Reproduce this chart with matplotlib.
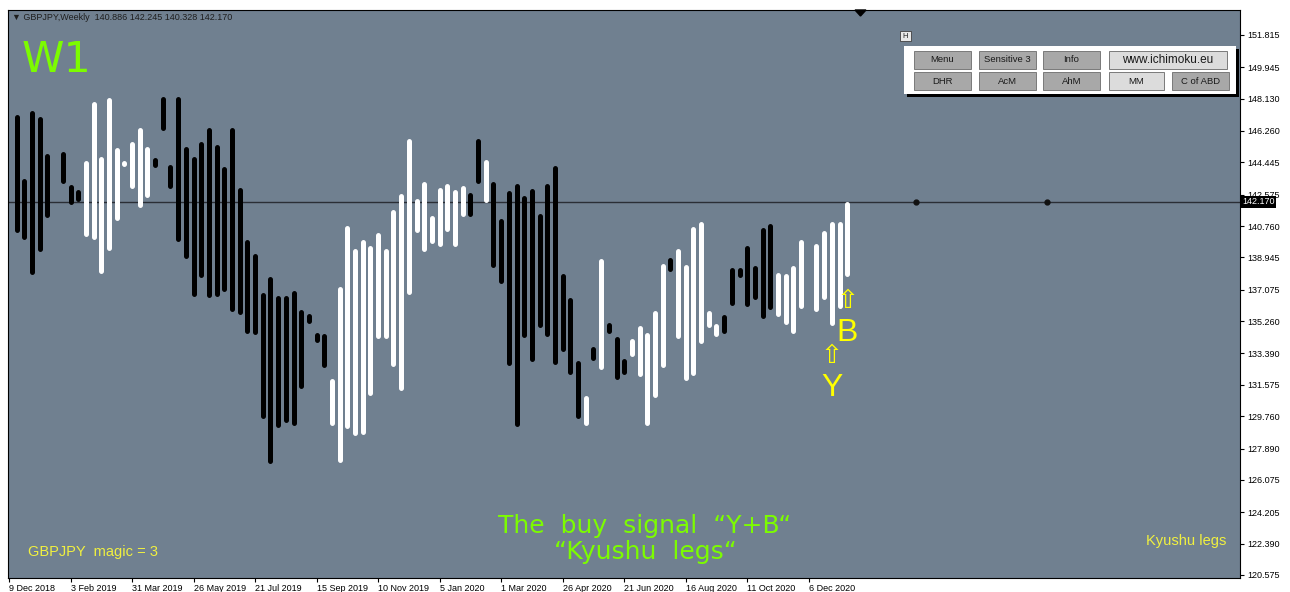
import matplotlib
matplotlib.use("Agg")
import matplotlib.pyplot as plt
from matplotlib.patches import Rectangle, Polygon
import numpy as np
import pandas as pd

plt.rcParams['font.family'] = ['Liberation Sans', 'DejaVu Sans']

# weekly "Kyushu legs" bars, first bar is the week of 16 Dec 2018
first_week = "2018-12-16"
leg_high = [147.19, 143.54, 147.42, 147.07, 144.93, 144.82, 145.10, 143.14, 142.85, 144.53,
            147.94, 144.76, 148.17, 145.28, 144.47, 145.68, 146.49, 145.34, 144.70, 148.23,
            144.35, 148.23, 145.34, 144.76, 145.68, 146.44, 145.45, 144.18, 146.44, 143.02,
            140.01, 139.15, 136.89, 137.82, 136.72, 136.77, 137.06, 135.96, 135.73, 134.63,
            134.52, 131.97, 137.24, 140.77, 139.49, 139.96, 139.61, 140.36, 139.44, 141.69,
            142.67, 145.80, 142.33, 143.31, 141.40, 143.02, 143.25, 142.85, 143.08, 142.73,
            145.80, 144.59, 143.31, 141.17, 142.79, 143.20, 142.50, 142.91, 141.46, 143.20,
            144.29, 137.99, 136.60, 132.96, 130.93, 133.82, 138.86, 135.21, 134.35, 133.07,
            134.23, 134.98, 134.58, 135.85, 138.57, 138.97, 139.49, 138.51, 140.71, 141.05,
            135.85, 135.10, 135.67, 138.34, 138.39, 139.61, 138.45, 140.65, 140.88, 138.10,
            137.99, 138.45, 140.01, 137.76, 139.78, 140.48, 141.05, 141.00, 142.21]
leg_low = [140.36, 140.01, 137.93, 139.26, 141.23, 144.53, 143.20, 141.98, 142.21, 140.13,
           139.96, 137.99, 139.32, 141.11, 144.29, 142.96, 141.86, 142.44, 144.12, 146.26,
           142.96, 139.84, 138.91, 136.66, 137.76, 136.60, 136.66, 136.95, 135.79, 135.67,
           134.52, 134.46, 129.60, 127.05, 129.08, 129.37, 129.20, 131.34, 135.10, 134.00,
           132.55, 129.25, 127.11, 129.02, 128.67, 128.73, 130.93, 134.23, 134.23, 132.61,
           131.22, 136.83, 140.36, 139.26, 139.78, 139.55, 140.42, 139.55, 141.29, 141.29,
           143.20, 142.15, 138.39, 137.41, 132.67, 129.14, 134.29, 132.90, 134.92, 134.35,
           132.78, 133.48, 132.20, 129.60, 129.25, 132.96, 132.49, 134.52, 131.86, 132.15,
           133.24, 132.03, 129.25, 130.87, 132.55, 138.16, 134.23, 131.80, 132.09, 133.94,
           134.87, 134.35, 134.52, 136.14, 137.76, 136.08, 136.49, 135.44, 135.91, 135.50,
           135.04, 134.52, 136.02, 137.47, 135.79, 136.49, 134.98, 136.02, 137.87]
# D = black (down) leg, U = white (up) leg
leg_kind = ("DDDDDDDDD" "UUUUUUUUU" "DDDDDDDDDDDDDDDDDDDDDDD" "UUUUUUUUUUUUUUUUUU"
            "DD" "U" "DDDDDDDDDDDD" "U" "D" "U" "DDD" "UUUUU" "D" "UUUUUU"
            "DDDDDDD" "UUUU" "D" "UUUUU")

last_price = 142.170
future_marks = [9, 26]   # weeks ahead of the last bar
header = "\u25bc GBPJPY,Weekly  140.886 142.245 140.328 142.170"

price_ticks = [151.815, 149.945, 148.130, 146.260, 144.445, 142.575, 140.760, 138.945, 137.075,
               135.260, 133.390, 131.575, 129.760, 127.890, 126.075, 124.205, 122.390, 120.575]
date_labels = ["9 Dec 2018", "3 Feb 2019", "31 Mar 2019", "26 May 2019", "21 Jul 2019",
               "15 Sep 2019", "10 Nov 2019", "5 Jan 2020", "1 Mar 2020", "26 Apr 2020",
               "21 Jun 2020", "16 Aug 2020", "11 Oct 2020", "6 Dec 2020"]

buttons_row1 = ["Menu", "Sensitive 3", "Info", "www.ichimoku.eu"]
buttons_row2 = ["DHR", "AcM", "AhM", "MM", "C of ABD"]

W, H = 1290, 592
green = '#7CFC00'
yellow = '#FFFF00'

fig = plt.figure(figsize=(W / 100, H / 100), dpi=100)
fig.patch.set_facecolor('white')
ax = fig.add_axes([8 / W, 1 - 578 / H, (1240 - 8) / W, (578 - 10) / H])
ax.set_facecolor('#708090')

weeks = pd.date_range(first_week, periods=len(leg_high), freq='W-SUN')
x = np.arange(len(weeks))
ax.set_xlim(-1.13, 159.08)
ax.set_ylim(120.40, 153.26)

# round caps stick out by half the line width, pull the ends in by that much
lw_px = 5.0
px_per_unit = 568 / (153.26 - 120.40)
inset = lw_px / 2 / px_per_unit
hi = np.array(leg_high) - inset
lo = np.array(leg_low) + inset
mid = (np.array(leg_high) + np.array(leg_low)) / 2
short = lo >= hi
hi[short] = mid[short] + 0.01
lo[short] = mid[short] - 0.01

kinds = np.array(list(leg_kind))
for k, col in (('D', 'black'), ('U', 'white')):
    m = kinds == k
    ax.vlines(x[m], lo[m], hi[m], colors=col, linewidth=lw_px * 0.72, capstyle='round', zorder=3)

ax.axhline(last_price, color='#2a2e35', lw=1.0, zorder=2)
ax.plot(x[-1] + np.array(future_marks), [last_price] * len(future_marks), 'o',
        color='#111111', ms=3.5, zorder=4)

# signal arrows
ax.text(x[-3], 133.25, "\u21e7", color=yellow, fontsize=19, ha='center', va='center',
        family=['DejaVu Sans'], zorder=5)
ax.text(x[-3], 131.39, "Y", color=yellow, fontsize=23, ha='center', va='center', zorder=5)
ax.text(x[-1], 136.43, "\u21e7", color=yellow, fontsize=19, ha='center', va='center',
        family=['DejaVu Sans'], zorder=5)
ax.text(x[-1], 134.58, "B", color=yellow, fontsize=23, ha='center', va='center', zorder=5)

# axes
for s in ax.spines.values():
    s.set_color('black')
    s.set_linewidth(0.8)
ax.yaxis.tick_right()
ax.set_yticks(price_ticks)
ax.set_yticklabels([f"{v:.3f}" for v in price_ticks])
ax.tick_params(axis='y', direction='out', length=3, width=0.8, pad=2, labelsize=6.5,
               colors='black', left=False)

tick_pos = [(pd.to_datetime(d, format="%d %b %Y") - weeks[0]).days / 7 for d in date_labels]
ax.set_xticks(tick_pos)
ax.set_xticklabels(date_labels, ha='left')
ax.tick_params(axis='x', direction='out', length=3, width=0.8, pad=1, labelsize=6.5,
               colors='black')

# current price box sits over the lower half of the 142.575 label, as in the terminal
ax.text(1.0 + 2 / 1232, last_price, "142.170", transform=ax.get_yaxis_transform(),
        ha='left', va='center', fontsize=6.5, color='white', clip_on=False, zorder=6,
        bbox=dict(facecolor='black', edgecolor='none', pad=1.0))

# texts on the chart
fig.text(12 / W, 1 - 18 / H, header, fontsize=6.5, va='center', color='#1e1e1e')
fig.text(22 / W, 1 - 72 / H, "W1", fontsize=31, color=green, va='baseline',
         family=['DejaVu Sans'])
fig.text(645 / W, 1 - 533 / H, "The  buy  signal  \u201cY+B\u201c", fontsize=18, color=green,
         ha='center', va='baseline', family=['DejaVu Sans'])
fig.text(645 / W, 1 - 559 / H, "\u201cKyushu  legs\u201c", fontsize=18, color=green,
         ha='center', va='baseline', family=['DejaVu Sans'])
fig.text(28 / W, 1 - 556 / H, "GBPJPY  magic = 3", fontsize=10.5, color='#f0f040', va='baseline')
fig.text(1146 / W, 1 - 545 / H, "Kyushu legs", fontsize=10.5, color='#f0f040', va='baseline')


def box(x0, y0, x1, y1, **kw):
    fig.patches.append(Rectangle((x0 / W, 1 - y1 / H), (x1 - x0) / W, (y1 - y0) / H,
                                 transform=fig.transFigure, **kw))


# shift marker at the top
fig.patches.append(Polygon([(855 / W, 1 - 10 / H), (866 / W, 1 - 10 / H), (860.5 / W, 1 - 16 / H)],
                           closed=True, transform=fig.transFigure, color='black'))

# button panel
box(900, 31, 911, 41, facecolor='#e8e8e8', edgecolor='#404040', lw=0.6)
fig.text(905.5 / W, 1 - 36 / H, "H", fontsize=5.5, ha='center', va='center', color='#202020')
box(907, 49, 1239, 97, facecolor='black', edgecolor='none')
box(904, 46, 1236, 94, facecolor='white', edgecolor='none')

row1_x = [(914, 971), (979, 1036), (1043, 1100), (1109, 1227)]
row2_x = [(914, 971), (979, 1036), (1043, 1100), (1109, 1164), (1172, 1229)]
light = {"www.ichimoku.eu", "MM"}
for labels, xs, (y0, y1) in ((buttons_row1, row1_x, (51, 69)), (buttons_row2, row2_x, (72, 90))):
    for lab, (x0, x1) in zip(labels, xs):
        fc = '#dcdcdc' if lab in light else '#a8a8a8'
        box(x0, y0, x1, y1, facecolor=fc, edgecolor='#7a7a7a', lw=0.7)
        fs = 8.5 if lab == "www.ichimoku.eu" else 6.8
        fig.text((x0 + x1) / 2 / W, 1 - (y0 + y1) / 2 / H, lab, fontsize=fs, ha='center',
                 va='center', color='#1a1a1a')

fig.savefig("out.png", dpi=100)
